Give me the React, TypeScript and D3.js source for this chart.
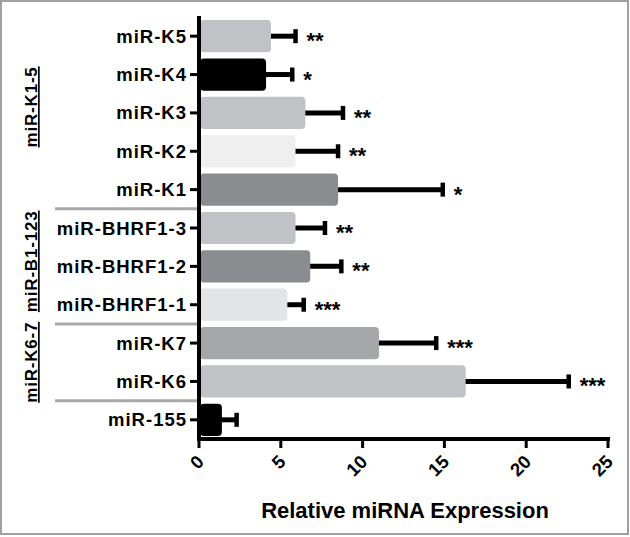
import React, { useEffect, useRef } from 'react';
import * as d3 from 'd3';

const categories = [
  'miR-K5', 'miR-K4', 'miR-K3', 'miR-K2', 'miR-K1',
  'miR-BHRF1-3', 'miR-BHRF1-2', 'miR-BHRF1-1',
  'miR-K7', 'miR-K6', 'miR-155',
];
const means = [4.4, 4.1, 6.5, 5.9, 8.5, 5.9, 6.8, 5.4, 11.0, 16.3, 1.4];
const errorTops = [5.9, 5.7, 8.8, 8.5, 14.9, 7.7, 8.7, 6.4, 14.5, 22.6, 2.3];
const stars = ['**', '*', '**', '**', '*', '**', '**', '***', '***', '***', ''];
const barColors = [
  '#c1c2c5', '#000000', '#c1c2c5', '#efefef', '#8b8c8f',
  '#c1c2c5', '#8b8c8f', '#e3e4e5', '#a6a7a9', '#c1c2c5', '#000000',
];
const groupNames = ['miR-K1-5', 'miR-B1-123', 'miR-K6-7'];
const groupFrom = ['miR-K5', 'miR-BHRF1-3', 'miR-K7'];
const groupTo = ['miR-K1', 'miR-BHRF1-1', 'miR-K6'];
const xTicks = [0, 5, 10, 15, 20, 25];

const W = 630;
const H = 537;
const FONT = '"Liberation Sans", Arial, sans-serif';

export default function App() {
  const ref = useRef<SVGSVGElement>(null);

  useEffect(() => {
    const svg = d3.select(ref.current);
    svg.selectAll('*').remove();

    const x = d3.scaleLinear().domain([0, 25]).range([199, 608]);
    const y = d3.scaleBand().domain(categories).range([17, 439]).paddingInner(0.16).paddingOuter(0.08);
    const mid = (c: string) => (y(c) as number) + y.bandwidth() / 2;

    // frame
    svg.append('rect')
      .attr('x', 1).attr('y', 1).attr('width', W - 3).attr('height', H - 4)
      .attr('fill', 'white').attr('stroke', '#a0a0a0').attr('stroke-width', 2);

    const data = categories.map((c, i) => ({
      c, v: means[i], e: errorTops[i], s: stars[i], col: barColors[i],
    }));

    // error bars
    const eb = svg.append('g');
    data.forEach(d => {
      const cy = mid(d.c);
      eb.append('line')
        .attr('x1', x(d.v) - 4).attr('x2', x(d.e))
        .attr('y1', cy).attr('y2', cy)
        .attr('stroke', '#000').attr('stroke-width', 5);
      eb.append('line')
        .attr('x1', x(d.e)).attr('x2', x(d.e))
        .attr('y1', cy - 7).attr('y2', cy + 7)
        .attr('stroke', '#000').attr('stroke-width', 4.5);
    });

    // bars
    svg.append('g').selectAll('rect').data(data).enter().append('rect')
      .attr('x', x(0) + 1)
      .attr('y', d => y(d.c) as number)
      .attr('width', d => x(d.v) - x(0) - 1)
      .attr('height', y.bandwidth())
      .attr('rx', 4)
      .attr('fill', d => d.col);

    // significance stars
    svg.append('g').selectAll('text').data(data).enter().append('text')
      .attr('x', d => x(d.e) + 11)
      .attr('y', d => mid(d.c) + 12)
      .attr('font-family', FONT).attr('font-weight', 'bold').attr('font-size', 22)
      .text(d => d.s);

    // group separator lines
    const sep = [
      (mid('miR-K1') + mid('miR-BHRF1-3')) / 2,
      (mid('miR-BHRF1-1') + mid('miR-K7')) / 2,
      (mid('miR-K6') + mid('miR-155')) / 2,
    ];
    svg.append('g').selectAll('line').data(sep).enter().append('line')
      .attr('x1', 55).attr('x2', 199)
      .attr('y1', d => d).attr('y2', d => d)
      .attr('stroke', '#a9a9a9').attr('stroke-width', 3);

    // group labels (rotated, underlined)
    groupNames.forEach((name, i) => {
      const cy = (mid(groupFrom[i]) + mid(groupTo[i])) / 2 - (i === 1 ? 5 : i === 0 ? 6 : 0);
      svg.append('text')
        .attr('transform', `translate(37,${cy}) rotate(-90)`)
        .attr('text-anchor', 'middle')
        .attr('font-family', FONT).attr('font-weight', 'bold').attr('font-size', 17)
        .attr('letter-spacing', 0.8)
        .style('text-decoration', 'underline')
        .text(name);
    });

    // y axis
    const yAxis = svg.append('g').attr('transform', `translate(199,0)`);
    yAxis.append('line')
      .attr('x1', 0).attr('x2', 0).attr('y1', 16).attr('y2', 441)
      .attr('stroke', '#000').attr('stroke-width', 4);
    categories.forEach(c => {
      const cy = mid(c);
      yAxis.append('line')
        .attr('x1', -9).attr('x2', 0).attr('y1', cy).attr('y2', cy)
        .attr('stroke', '#000').attr('stroke-width', 3);
      yAxis.append('text')
        .attr('x', -12).attr('y', cy + 6.5)
        .attr('text-anchor', 'end')
        .attr('font-family', FONT).attr('font-weight', 'bold').attr('font-size', 18.5)
        .attr('letter-spacing', 1)
        .text(c);
    });

    // x axis
    const xAxis = svg.append('g').attr('transform', `translate(0,439)`);
    xAxis.append('line')
      .attr('x1', 197).attr('x2', 610).attr('y1', 0).attr('y2', 0)
      .attr('stroke', '#000').attr('stroke-width', 4);
    xTicks.forEach(t => {
      xAxis.append('line')
        .attr('x1', x(t)).attr('x2', x(t)).attr('y1', 0).attr('y2', 9)
        .attr('stroke', '#000').attr('stroke-width', 3);
      xAxis.append('text')
        .attr('transform', `translate(${x(t) + 6},${24}) rotate(-45)`)
        .attr('text-anchor', 'end')
        .attr('font-family', FONT).attr('font-weight', 'bold').attr('font-size', 18.5)
        .text(t);
    });

    svg.append('text')
      .attr('x', 405).attr('y', 518)
      .attr('text-anchor', 'middle')
      .attr('font-family', FONT).attr('font-weight', 'bold').attr('font-size', 22)
      .text('Relative miRNA Expression');
  }, []);

  return (
    <svg
      ref={ref}
      width={W}
      height={H}
      style={{ position: 'absolute', left: 0, top: 0, background: 'white' }}
    />
  );
}
